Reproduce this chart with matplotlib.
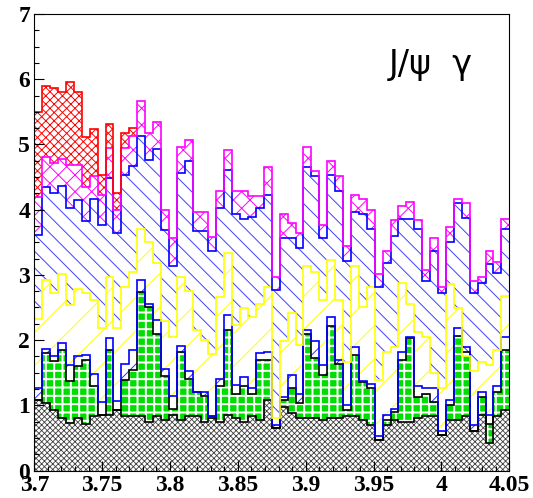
import numpy as np
import matplotlib
matplotlib.use("Agg")
import matplotlib.pyplot as plt

# cumulative stack tops per bin (60 bins, 3.70 - 4.05)
black = [1.08, 1.03, 0.93, 0.80, 0.73, 0.80, 0.72, 0.83, 0.85, 0.85,
         0.93, 0.83, 0.83, 0.83, 0.75, 0.83, 0.78, 0.85, 0.78, 0.83,
         0.83, 0.75, 0.83, 0.75, 0.85, 0.80, 0.75, 0.83, 0.78, 1.08,
         0.65, 0.98, 0.88, 0.80, 0.80, 0.80, 0.78, 0.80, 0.80, 0.83,
         0.83, 0.78, 0.70, 0.47, 0.70, 0.78, 0.75, 0.75, 0.80, 0.83,
         0.83, 0.55, 0.78, 0.78, 0.83, 0.60, 0.85, 0.42, 0.83, 0.93]
green = [1.08, 1.80, 1.68, 1.85, 1.38, 1.60, 1.70, 1.30, 0.85, 1.85,
         0.93, 1.39, 1.54, 2.74, 2.50, 2.10, 1.45, 0.95, 1.81, 1.40,
         1.20, 1.15, 0.80, 1.29, 2.16, 1.18, 1.29, 1.18, 1.70, 1.70,
         0.65, 1.08, 1.26, 1.03, 2.09, 1.72, 1.46, 2.21, 1.64, 0.93,
         1.77, 1.36, 1.26, 0.47, 0.77, 0.90, 1.70, 2.03, 1.13, 1.18,
         1.05, 0.55, 1.00, 2.06, 1.82, 0.60, 1.13, 0.72, 1.21, 1.85]
bluethin = [1.26, 1.87, 1.75, 1.95, 1.62, 1.75, 1.77, 1.48, 1.05, 2.03,
            1.06, 1.64, 1.85, 2.92, 2.56, 2.31, 1.55, 1.15, 1.91, 1.52,
            1.21, 1.21, 0.82, 1.41, 2.38, 1.31, 1.44, 1.26, 1.80, 1.82,
            0.70, 1.13, 1.46, 1.18, 2.16, 1.98, 1.62, 2.36, 1.70, 1.00,
            1.90, 1.38, 1.33, 0.53, 0.85, 0.95, 1.82, 2.05, 1.29, 1.26,
            1.26, 0.60, 1.08, 2.18, 1.90, 0.70, 1.21, 0.85, 1.29, 2.05]
yellow = [2.33, 2.92, 2.72, 3.02, 2.54, 2.79, 2.72, 2.62, 2.18, 2.97,
          2.18, 2.82, 3.05, 3.71, 3.50, 3.18, 2.30, 2.05, 2.96, 2.75,
          2.15, 2.00, 1.78, 2.66, 3.33, 2.23, 2.49, 2.36, 2.56, 2.82,
          0.80, 1.98, 2.41, 1.93, 3.13, 3.05, 2.62, 3.23, 2.62, 1.67,
          3.13, 2.51, 2.82, 1.39, 1.82, 1.90, 2.88, 2.56, 2.13, 2.05,
          1.50, 1.26, 2.86, 2.49, 1.75, 1.52, 1.67, 1.62, 1.85, 2.68]
blue = [3.61, 4.35, 4.25, 4.36, 4.02, 4.15, 3.83, 4.17, 3.77, 4.48,
        3.64, 4.53, 4.67, 5.13, 4.76, 4.93, 3.69, 3.14, 4.56, 4.74,
        3.68, 3.68, 3.36, 4.02, 4.61, 3.94, 3.85, 3.89, 4.02, 4.23,
        2.77, 3.56, 3.56, 3.41, 4.65, 4.51, 3.56, 4.53, 4.28, 3.22,
        3.97, 3.94, 3.71, 2.82, 3.18, 3.59, 3.85, 3.85, 3.70, 2.91,
        3.36, 2.72, 3.51, 4.10, 3.87, 2.72, 2.88, 3.17, 3.03, 3.70]
magenta = [4.20, 4.81, 4.71, 4.77, 4.69, 4.69, 4.35, 4.51, 4.23, 4.94,
           4.00, 4.94, 5.13, 5.66, 5.18, 5.35, 3.99, 3.56, 4.96, 5.07,
           3.97, 3.97, 3.58, 4.28, 4.92, 4.29, 4.29, 4.21, 4.21, 4.66,
           2.96, 3.93, 3.79, 3.64, 4.96, 4.60, 3.77, 4.75, 4.51, 3.44,
           4.23, 4.16, 4.00, 3.02, 3.37, 3.84, 4.05, 4.11, 3.84, 3.08,
           3.56, 2.81, 3.74, 4.17, 4.10, 2.91, 2.97, 3.36, 3.19, 3.85]
# red only in the first 13 bins
red = [5.49, 5.90, 5.86, 5.80, 5.95, 5.81, 5.12, 5.23, 4.53, 5.32, 4.26, 5.17, 5.25]

xticks = [3.7, 3.75, 3.8, 3.85, 3.9, 3.95, 4.0, 4.05]
xlabels = ['3.7', '3.75', '3.8', '3.85', '3.9', '3.95', '4', '4.05']
title = 'J/\u03c8  \u03b3'

edges = np.linspace(3.7, 4.05, len(black) + 1)

# layer: top, face, hatch colour, hatch, line colour, hatch width
layers = [
    (black,    'white',   '#404040', 'xxxxxx', 'black',   0.6),
    (green,    '#00dd00', 'white',   '++',     'black',   1.4),
    (bluethin, 'white',   '#3030ff', '/',      '#0000ff', 0.7),
    (yellow,   'white',   '#ffff00', '/',      '#ffff00', 0.7),
    (blue,     'white',   '#4040ff', '\\\\',   '#0000ff', 0.7),
    (magenta,  'white',   '#ff00ff', 'xx',     '#ff00ff', 0.7),
]

plt.rcParams['hatch.linewidth'] = 0.7

fig = plt.figure(figsize=(5.33, 4.98), dpi=100)
ax = fig.add_axes([0.0644, 0.0552, 0.8911, 0.9167])

lower = np.zeros(len(black))
for top, face, hcol, hatch, lcol, hw in layers:
    top = np.array(top)
    with plt.rc_context({'hatch.linewidth': hw}):
        ax.stairs(top, edges, baseline=lower, fill=True, facecolor=face,
                  edgecolor=hcol, hatch=hatch, linewidth=0)
    lower = top
nr = len(red)
ax.stairs(red, edges[:nr + 1], baseline=np.array(magenta[:nr]), fill=True,
          facecolor='white', edgecolor='#ff0000', hatch='xxxx', linewidth=0)

# outlines
for top, face, hcol, hatch, lcol, hw in layers:
    ax.stairs(top, edges, baseline=None, color=lcol, linewidth=1.2)
ax.stairs(red, edges[:nr + 1], baseline=None, color='#ff0000', linewidth=1.2)

ax.set_xlim(3.7, 4.05)
ax.set_ylim(0, 7)
ax.set_xticks(xticks)
ax.set_xticklabels(xlabels)
ax.set_yticks(range(8))
ax.set_xticks(np.arange(3.7, 4.0501, 0.01), minor=True)
ax.set_yticks(np.arange(0, 7.01, 0.25), minor=True)
ax.tick_params(direction='in', length=7, width=0.8, pad=3)
ax.tick_params(which='minor', direction='in', length=3.5, width=0.8)
for lab in ax.get_xticklabels() + ax.get_yticklabels():
    lab.set_fontfamily('Liberation Serif')
    lab.set_fontweight('bold')
    lab.set_fontsize(17)

ax.text(3.961, 6.22, title, fontsize=24, va='center', ha='left')

fig.savefig('out.png', dpi=100)
